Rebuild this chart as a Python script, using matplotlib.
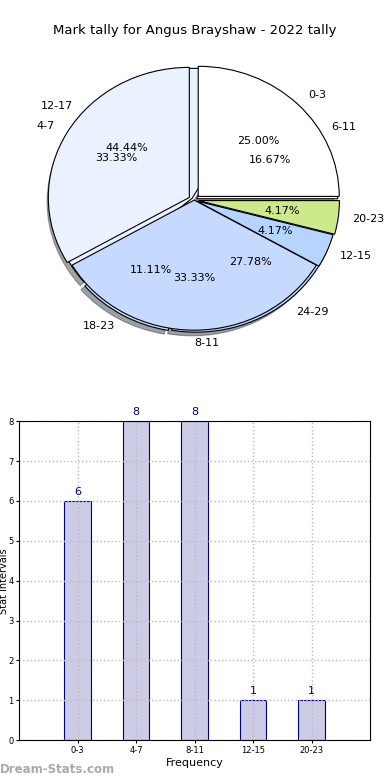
import numpy as np
import matplotlib
matplotlib.use("Agg")
import matplotlib.pyplot as plt

# stat intervals (2-point buckets) and their tally
intervals = ["0-3", "4-7", "8-11", "12-15", "20-23"]
counts = [6, 8, 8, 1, 1]

# second tally drawn underneath in the pie
intervals2 = ["6-11", "12-17", "18-23", "24-29"]
counts2 = [3, 8, 2, 5]

pie_colors = ["#ffffff", "#ebf2ff", "#c6d9ff", "#b5d5ff", "#cde98a"]
pie_colors2 = ["#ffffff", "#ebf2ff", "#c6d9ff", "#b5d5ff"]

fig = plt.figure(figsize=(3.9, 7.8), dpi=100)

# pie chart
ax1 = fig.add_axes([0.046, 0.535, 0.904, 0.417])
ax1.pie(counts2, labels=intervals2, colors=pie_colors2, autopct="%1.2f%%",
        explode=[0.02, 0.02, 0.02, 0.02], shadow=True, startangle=0,
        wedgeprops=dict(linewidth=0.8, edgecolor="black"),
        textprops=dict(fontsize=8))
ax1.pie(counts, labels=intervals, colors=pie_colors, autopct="%1.2f%%",
        explode=[0.04, 0.04, 0.0, 0.02, 0.03], shadow=False, startangle=0,
        wedgeprops=dict(linewidth=0.8, edgecolor="black"),
        textprops=dict(fontsize=8))
ax1.set_aspect("auto")
ax1.set_xlim(-1.25, 1.25)
ax1.set_ylim(-1.25, 1.25)
fig.text(0.5, 0.961, "Mark tally for Angus Brayshaw - 2022 tally",
         ha="center", va="center", fontsize=9.5)

# bar chart
ax2 = fig.add_axes([0.049, 0.051, 0.9, 0.409])
x = np.arange(len(intervals))
ax2.bar(x, counts, width=0.45, color="#ccccE6", edgecolor="#000080", linewidth=0.8)
for xi, c in zip(x, counts):
    ax2.text(xi, c + 0.1, str(c), ha="center", va="bottom", color="#000080", fontsize=8)
ax2.set_xlim(-1, 5)
ax2.set_ylim(0, 8)
ax2.set_xticks(x)
ax2.set_xticklabels(intervals)
ax2.set_yticks(range(9))
ax2.tick_params(labelsize=6, length=2, pad=2)
ax2.grid(True, linestyle=":", color="#bbbbbb", linewidth=1)
ax2.set_axisbelow(False)
for sp in ax2.spines.values():
    sp.set_zorder(5)
ax2.set_xlabel("Frequency", fontsize=8, labelpad=2)
ax2.set_ylabel("Stat Intervals", fontsize=7)
ax2.yaxis.set_label_coords(-0.03, 0.5)

fig.text(0.0, 0.013, "Dream-Stats.com", color="#aaaaaa", fontsize=8.5,
         fontweight="bold", ha="left", va="center")

fig.savefig("out.png", dpi=100)
